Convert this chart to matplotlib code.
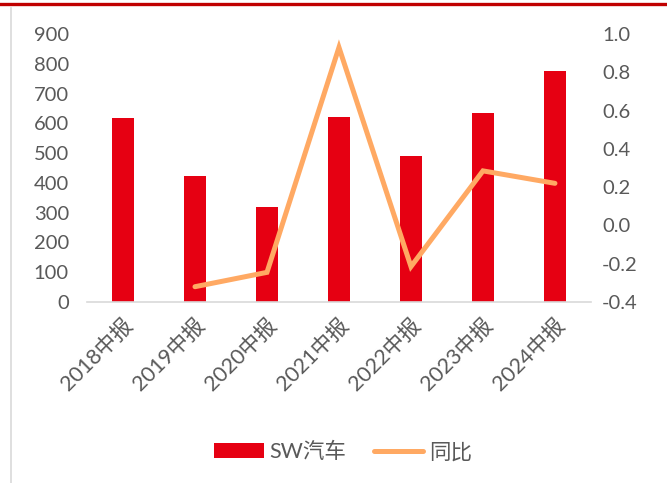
import numpy as np
import matplotlib
matplotlib.use("Agg")
import matplotlib.pyplot as plt
from matplotlib.patches import Patch
from matplotlib.lines import Line2D
import matplotlib.transforms as mtransforms

plt.rcParams['font.family'] = ['Lato', 'Noto Sans CJK SC', 'DejaVu Sans']

# data
periods = ['2018中报', '2019中报', '2020中报', '2021中报', '2022中报', '2023中报', '2024中报']
sw_auto = [617, 423, 319, 621, 490, 634, 775]
yoy = [np.nan, -0.32, -0.245, 0.93, -0.215, 0.285, 0.22]

bar_red = '#E60012'
line_orange = '#FFA963'
grey_txt = '#595959'

fig = plt.figure(figsize=(6.67, 4.83), dpi=100)
ax = fig.add_axes([0.1304, 0.3747, 0.7556, 0.5549])
ax2 = ax.twinx()

x = np.arange(len(periods))
ax.bar(x, sw_auto, width=0.31, color=bar_red, zorder=2)
ax2.plot(x, yoy, color=line_orange, lw=3.6, solid_capstyle='round',
         solid_joinstyle='miter', zorder=3)

ax.set_xlim(-0.5, len(periods) - 0.5)
ax.set_ylim(0, 900)
ax.set_yticks(np.arange(0, 901, 100))
ax2.set_ylim(-0.4, 1.0)
ax2.set_yticks(np.arange(-0.4, 1.01, 0.2))
ax2.set_yticklabels(['%.1f' % v for v in np.arange(-0.4, 1.01, 0.2)])

for a in (ax, ax2):
    for s in a.spines.values():
        s.set_visible(False)
    a.tick_params(length=0, labelsize=14.5, labelcolor=grey_txt)
ax.spines['bottom'].set_visible(True)
ax.spines['bottom'].set_color('#D9D9D9')
ax.spines['bottom'].set_linewidth(1.2)
ax.tick_params(axis='y', pad=13)
ax2.tick_params(axis='y', pad=8)

ax.set_xticks(x)
offset = mtransforms.ScaledTranslation(0.14, 0, fig.dpi_scale_trans)
ax.set_xticklabels(periods, rotation=45, ha='right', va='top',
                   rotation_mode='anchor', fontsize=15.5)
for lbl in ax.get_xticklabels():
    lbl.set_transform(lbl.get_transform() + offset)
ax.tick_params(axis='x', pad=9)

handles = [Patch(facecolor=bar_red, edgecolor='none'),
           Line2D([0], [0], color=line_orange, lw=3.6, solid_capstyle='round')]
fig.legend(handles, ['SW汽车', '同比'], loc='center', bbox_to_anchor=(0.514, 0.064),
           ncol=2, frameon=False, fontsize=15.5, labelcolor=grey_txt,
           handlelength=2.3, handletextpad=0.25, columnspacing=1.3)

# decorative frame lines
fig.add_artist(Line2D([0, 1], [0.992, 0.992], color='#C00000', lw=2.4,
                      transform=fig.transFigure))
fig.add_artist(Line2D([0.0165, 0.0165], [0, 0.983], color='#D9D9D9', lw=1.2,
                      transform=fig.transFigure))

fig.savefig('out.png', dpi=100)
